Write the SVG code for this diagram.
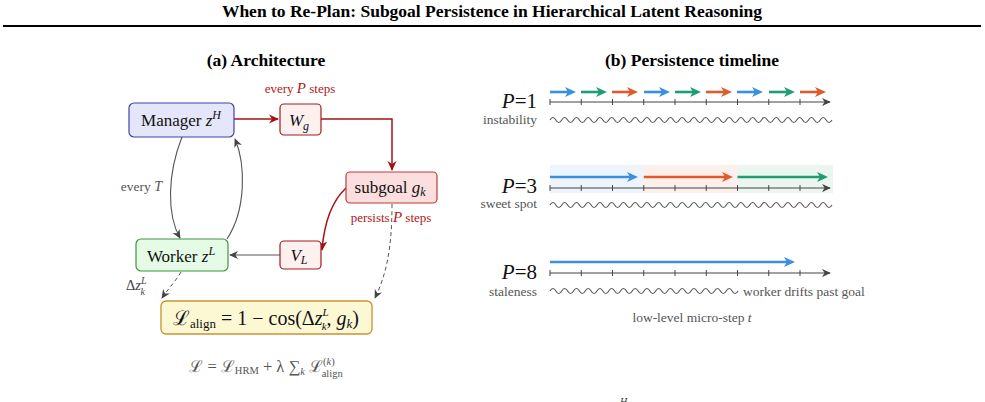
<svg xmlns="http://www.w3.org/2000/svg" width="985" height="402" viewBox="0 0 985 402">
<style>
text{font-family:"Liberation Serif","DejaVu Serif",serif;}
.ttl{font-weight:bold;font-size:17.5px;text-anchor:middle;fill:#000;}
.it{font-style:italic;}
.node{font-size:17px;text-anchor:middle;fill:#111;}
.red{fill:#b01818;font-size:13px;text-anchor:middle;}
.gray{fill:#555;font-size:13.5px;}
.wave{fill:none;stroke:#555;stroke-width:1.1;}
.axis{stroke:#444;stroke-width:1.1;fill:none;}
.tick{stroke:#444;stroke-width:1;}
.plab{font-size:21px;text-anchor:end;fill:#111;}
</style>
<defs>
<marker id="ag" viewBox="0 0 10 10" refX="9" refY="5" markerWidth="9" markerHeight="9" markerUnits="userSpaceOnUse" orient="auto"><path d="M0,0.5 L10,5 L0,9.5 L3,5 z" fill="#444"/></marker>
<marker id="ar" viewBox="0 0 10 10" refX="9" refY="5" markerWidth="10" markerHeight="10" markerUnits="userSpaceOnUse" orient="auto"><path d="M0,0.5 L10,5 L0,9.5 L3,5 z" fill="#a31515"/></marker>
</defs>
<rect width="985" height="402" fill="#fff"/>
<text class="ttl" x="492" y="17">When to Re-Plan: Subgoal Persistence in Hierarchical Latent Reasoning</text>
<line x1="3" y1="26" x2="981" y2="26" stroke="#000" stroke-width="2"/>
<text class="ttl" x="266" y="66">(a) Architecture</text>
<text class="ttl" x="692" y="66">(b) Persistence timeline</text>

<g id="connectors">
<path d="M234,119 L278,119" stroke="#a31515" stroke-width="1.5" fill="none" marker-end="url(#ar)"/>
<path d="M321,119 L392,119 L392,170" stroke="#a31515" stroke-width="1.5" fill="none" marker-end="url(#ar)"/>
<path d="M346,188 C331,202 324,225 322,250" stroke="#a31515" stroke-width="1.5" fill="none" marker-end="url(#ar)"/>
<path d="M280,255 L230,255" stroke="#555" stroke-width="1.1" fill="none" marker-end="url(#ag)"/>
<path d="M182,137 C167,175 167,215 180,238" stroke="#555" stroke-width="1.1" fill="none" marker-end="url(#ag)"/>
<path d="M227,239 C246,210 246,165 235,139" stroke="#555" stroke-width="1.1" fill="none" marker-end="url(#ag)"/>
<path d="M392,204 C392,250 386,275 375,298" stroke="#555" stroke-width="1" stroke-dasharray="4,3" fill="none" marker-end="url(#ag)"/>
<path d="M181,272 C175,282 168,289 162,298" stroke="#555" stroke-width="1" stroke-dasharray="4,3" fill="none" marker-end="url(#ag)"/>
</g>

<text class="red" x="300" y="93">every <tspan class="it" font-size="15">P</tspan> steps</text>
<text class="gray" x="162" y="191" text-anchor="end" font-size="13">every <tspan class="it" font-size="14">T</tspan></text>
<text class="red" x="391" y="222" font-size="14">persists <tspan class="it" font-size="15">P</tspan> steps</text>
<text x="126" y="290" font-size="14.5" fill="#444">Δ<tspan class="it">z</tspan><tspan class="it" font-size="10" dy="-6">L</tspan><tspan class="it" font-size="10" dx="-6" dy="11">k</tspan></text>

<g id="manager">
<rect x="129" y="103" width="105" height="34" rx="5" fill="#e6e6fa" stroke="#4040b0" stroke-width="1.2"/>
<text class="node" x="181" y="126">Manager <tspan class="it">z</tspan><tspan class="it" font-size="12" dy="-7">H</tspan></text>
</g>
<g id="wg">
<rect x="280" y="104" width="41" height="31" rx="4" fill="#fff0f0" stroke="#a01c1c" stroke-width="1.2"/>
<text class="node" x="299" y="126" font-size="18"><tspan class="it">W</tspan><tspan class="it" font-size="12" dy="4">g</tspan></text>
</g>
<g id="subgoal">
<rect x="346" y="172" width="91" height="31" rx="4" fill="#fcdede" stroke="#c03a3a" stroke-width="1.2"/>
<text class="node" x="390" y="193">subgoal <tspan class="it">g</tspan><tspan class="it" font-size="12" dy="3">k</tspan></text>
</g>
<g id="vl">
<rect x="280" y="241" width="41" height="28" rx="4" fill="#fff0f0" stroke="#a01c1c" stroke-width="1.2"/>
<text class="node" x="299" y="261" font-size="18"><tspan class="it">V</tspan><tspan class="it" font-size="12" dy="3">L</tspan></text>
</g>
<g id="worker">
<rect x="136" y="239" width="92" height="32" rx="5" fill="#e6fbe6" stroke="#3c963c" stroke-width="1.2"/>
<text class="node" x="181" y="262">Worker <tspan class="it">z</tspan><tspan class="it" font-size="12" dy="-7">L</tspan></text>
</g>
<g id="lalign">
<rect x="161" y="301" width="211" height="33" rx="5" fill="#fdf8d4" stroke="#c8922e" stroke-width="1.3"/>
<text x="266" y="325" font-size="20" fill="#111" text-anchor="middle">ℒ<tspan font-size="13" dy="3">align</tspan><tspan dy="-3"> = 1 − cos(Δ</tspan><tspan class="it">z</tspan><tspan class="it" font-size="11" dy="-9">L</tspan><tspan class="it" font-size="11" dx="-7" dy="14">k</tspan><tspan dy="-5">,  </tspan><tspan class="it">g</tspan><tspan class="it" font-size="13" dy="3">k</tspan><tspan dy="-3">)</tspan></text>
</g>
<g id="total-loss">
<text x="266" y="372" font-size="16.5" fill="#555" text-anchor="middle">ℒ = ℒ<tspan font-size="10.5" dy="2">HRM</tspan><tspan dy="-2"> + λ ∑</tspan><tspan class="it" font-size="10.5" dy="3">k</tspan><tspan dy="-3"> ℒ</tspan><tspan font-size="10.5" dy="-7">(<tspan class="it">k</tspan>)</tspan><tspan font-size="10.5" dx="-13" dy="12">align</tspan></text>
</g>

<!-- Panel b -->
<g id="row-p1">
<text class="plab" x="537" y="108"><tspan class="it">P</tspan>=1</text>
<text class="gray" x="537" y="124" text-anchor="end">instability</text>
<g stroke-width="2.6">
<line x1="550" y1="92" x2="569" y2="92" stroke="#3b8ee0"/><polygon points="576,92 565,87 568,92 565,97" fill="#3b8ee0"/>
<line x1="581" y1="92" x2="600" y2="92" stroke="#1f9e73"/><polygon points="607,92 596,87 599,92 596,97" fill="#1f9e73"/>
<line x1="612" y1="92" x2="631" y2="92" stroke="#e05a2b"/><polygon points="638,92 627,87 630,92 627,97" fill="#e05a2b"/>
<line x1="644" y1="92" x2="663" y2="92" stroke="#3b8ee0"/><polygon points="670,92 659,87 662,92 659,97" fill="#3b8ee0"/>
<line x1="675" y1="92" x2="694" y2="92" stroke="#1f9e73"/><polygon points="701,92 690,87 693,92 690,97" fill="#1f9e73"/>
<line x1="706" y1="92" x2="725" y2="92" stroke="#e05a2b"/><polygon points="732,92 721,87 724,92 721,97" fill="#e05a2b"/>
<line x1="737" y1="92" x2="756" y2="92" stroke="#3b8ee0"/><polygon points="763,92 752,87 755,92 752,97" fill="#3b8ee0"/>
<line x1="769" y1="92" x2="788" y2="92" stroke="#1f9e73"/><polygon points="795,92 784,87 787,92 784,97" fill="#1f9e73"/>
<line x1="800" y1="92" x2="819" y2="92" stroke="#e05a2b"/><polygon points="826,92 815,87 818,92 815,97" fill="#e05a2b"/>
</g>
<line class="axis" x1="550" y1="102" x2="830" y2="102" marker-end="url(#ag)"/>
<g class="tick"><line x1="550" y1="99" x2="550" y2="105"/><line x1="581.25" y1="99" x2="581.25" y2="105"/><line x1="612.5" y1="99" x2="612.5" y2="105"/><line x1="643.75" y1="99" x2="643.75" y2="105"/><line x1="675" y1="99" x2="675" y2="105"/><line x1="706.25" y1="99" x2="706.25" y2="105"/><line x1="737.5" y1="99" x2="737.5" y2="105"/><line x1="768.75" y1="99" x2="768.75" y2="105"/><line x1="800" y1="99" x2="800" y2="105"/></g>
<path class="wave" d="M550,120 q2.94,-5 5.875,0 t5.875,0 t5.875,0 t5.875,0 t5.875,0 t5.875,0 t5.875,0 t5.875,0 t5.875,0 t5.875,0 t5.875,0 t5.875,0 t5.875,0 t5.875,0 t5.875,0 t5.875,0 t5.875,0 t5.875,0 t5.875,0 t5.875,0 t5.875,0 t5.875,0 t5.875,0 t5.875,0 t5.875,0 t5.875,0 t5.875,0 t5.875,0 t5.875,0 t5.875,0 t5.875,0 t5.875,0 t5.875,0 t5.875,0 t5.875,0 t5.875,0 t5.875,0 t5.875,0 t5.875,0 t5.875,0 t5.875,0 t5.875,0 t5.875,0 t5.875,0 t5.875,0 t5.875,0 t5.875,0 t5.875,0"/>
</g>

<g id="row-p3">
<rect x="550" y="165" width="93.75" height="28" fill="#eef4fb"/>
<rect x="643.75" y="165" width="93.75" height="28" fill="#fcf0ec"/>
<rect x="737.5" y="165" width="95.5" height="28" fill="#ecf6f0"/>
<text class="plab" x="537" y="193"><tspan class="it">P</tspan>=3</text>
<text class="gray" x="537" y="208" text-anchor="end">sweet spot</text>
<g stroke-width="2.6">
<line x1="550" y1="177" x2="631" y2="177" stroke="#3b8ee0"/><polygon points="638,177 627,172 630,177 627,182" fill="#3b8ee0"/>
<line x1="643.75" y1="177" x2="726" y2="177" stroke="#e05a2b"/><polygon points="733,177 722,172 725,177 722,182" fill="#e05a2b"/>
<line x1="737.5" y1="177" x2="821" y2="177" stroke="#1f9e73"/><polygon points="828,177 817,172 820,177 817,182" fill="#1f9e73"/>
</g>
<line class="axis" x1="550" y1="188" x2="830" y2="188" marker-end="url(#ag)"/>
<g class="tick"><line x1="550" y1="185" x2="550" y2="191"/><line x1="581.25" y1="185" x2="581.25" y2="191"/><line x1="612.5" y1="185" x2="612.5" y2="191"/><line x1="643.75" y1="185" x2="643.75" y2="191"/><line x1="675" y1="185" x2="675" y2="191"/><line x1="706.25" y1="185" x2="706.25" y2="191"/><line x1="737.5" y1="185" x2="737.5" y2="191"/><line x1="768.75" y1="185" x2="768.75" y2="191"/><line x1="800" y1="185" x2="800" y2="191"/></g>
<path class="wave" d="M550,205 q2.94,-5 5.875,0 t5.875,0 t5.875,0 t5.875,0 t5.875,0 t5.875,0 t5.875,0 t5.875,0 t5.875,0 t5.875,0 t5.875,0 t5.875,0 t5.875,0 t5.875,0 t5.875,0 t5.875,0 t5.875,0 t5.875,0 t5.875,0 t5.875,0 t5.875,0 t5.875,0 t5.875,0 t5.875,0 t5.875,0 t5.875,0 t5.875,0 t5.875,0 t5.875,0 t5.875,0 t5.875,0 t5.875,0 t5.875,0 t5.875,0 t5.875,0 t5.875,0 t5.875,0 t5.875,0 t5.875,0 t5.875,0 t5.875,0 t5.875,0 t5.875,0 t5.875,0 t5.875,0 t5.875,0 t5.875,0 t5.875,0"/>
</g>

<g id="row-p8">
<text class="plab" x="537" y="279"><tspan class="it">P</tspan>=8</text>
<text class="gray" x="537" y="296" text-anchor="end">staleness</text>
<line x1="550" y1="262" x2="788" y2="262" stroke="#3b8ee0" stroke-width="2.6"/><polygon points="795,262 784,257 787,262 784,267" fill="#3b8ee0"/>
<line class="axis" x1="550" y1="273" x2="830" y2="273" marker-end="url(#ag)"/>
<g class="tick"><line x1="550" y1="270" x2="550" y2="276"/><line x1="581.25" y1="270" x2="581.25" y2="276"/><line x1="612.5" y1="270" x2="612.5" y2="276"/><line x1="643.75" y1="270" x2="643.75" y2="276"/><line x1="675" y1="270" x2="675" y2="276"/><line x1="706.25" y1="270" x2="706.25" y2="276"/><line x1="737.5" y1="270" x2="737.5" y2="276"/><line x1="768.75" y1="270" x2="768.75" y2="276"/><line x1="800" y1="270" x2="800" y2="276"/></g>
<path class="wave" d="M550,291 q2.94,-5 5.875,0 t5.875,0 t5.875,0 t5.875,0 t5.875,0 t5.875,0 t5.875,0 t5.875,0 t5.875,0 t5.875,0 t5.875,0 t5.875,0 t5.875,0 t5.875,0 t5.875,0 t5.875,0 t5.875,0 t5.875,0 t5.875,0 t5.875,0 t5.875,0 t5.875,0 t5.875,0 t5.875,0 t5.875,0 t5.875,0 t5.875,0 t5.875,0 t5.875,0 t5.875,0 t5.875,0 t5.875,0"/>
<text class="gray" x="743" y="296" font-size="15.5">worker drifts past goal</text>
<text class="gray" x="692" y="322" font-size="15.5" text-anchor="middle">low-level micro-step <tspan class="it">t</tspan></text>
</g>
<text x="620" y="405" font-size="10" class="it" fill="#333">H</text>
</svg>
